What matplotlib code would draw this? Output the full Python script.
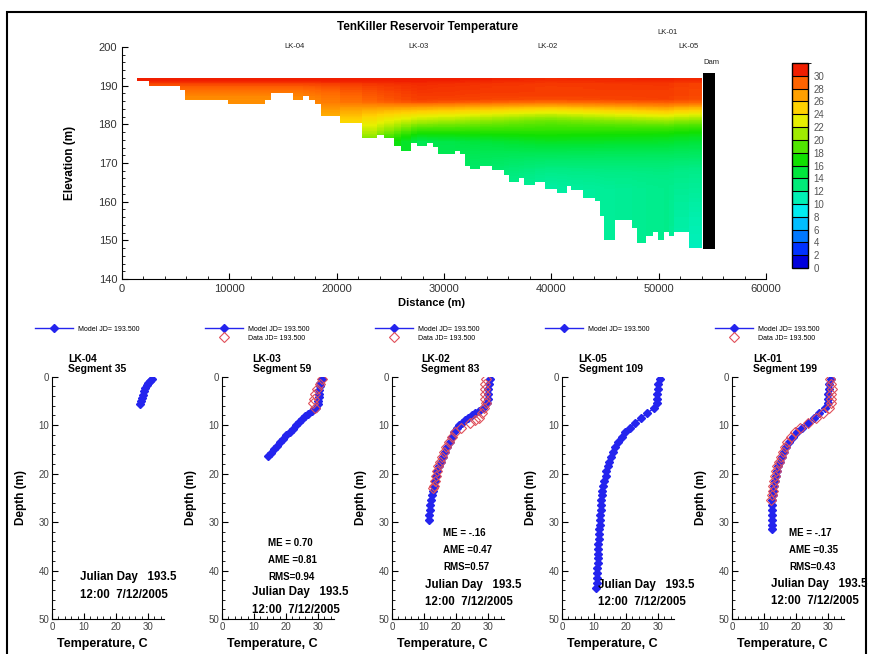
import numpy as np
import matplotlib.pyplot as plt
from matplotlib.colors import LinearSegmentedColormap, ListedColormap, BoundaryNorm
from matplotlib.cm import ScalarMappable
from matplotlib.patches import Rectangle
from matplotlib.ticker import MultipleLocator

plt.rcParams['font.family'] = ['Liberation Sans', 'DejaVu Sans']

# ---- reservoir longitudinal section (segments) ----
seg_edges = [1400, 2500, 5400, 5900, 9850, 13350, 13900, 15900, 16850, 17400, 17950,
             18500, 20350, 22350, 23800, 24400, 25350, 25950, 26950, 27450, 28400,
             28950, 29400, 31000, 31450, 32000, 32450, 33400, 34500, 35600, 36050,
             37000, 37450, 38450, 39450, 40550, 41450, 41850, 42950, 44050, 44500,
             44950, 45900, 47550, 48000, 48800, 49500, 49900, 50500, 51000, 51450,
             52850, 54000]
seg_bottom = [191.1, 190.0, 189.0, 186.2, 185.2, 186.2, 188.2, 186.2, 187.1, 186.2,
              185.2, 182.2, 180.3, 176.3, 177.2, 176.3, 174.3, 173.2, 175.2, 174.3,
              175.2, 174.1, 172.2, 173.0, 172.2, 169.1, 168.3, 169.1, 168.1, 167.0,
              165.0, 166.0, 164.1, 165.0, 163.1, 162.1, 164.0, 163.0, 161.0, 160.1,
              156.2, 150.2, 155.1, 153.2, 149.1, 151.2, 152.1, 150.2, 152.1, 151.2,
              152.1, 148.0]
water_surface = 192.0
dam_x = [54150, 55250]
dam_z = [147.8, 193.4]

stations = ['LK-04', 'LK-03', 'LK-02', 'LK-01', 'LK-05']
station_x = [16100, 27600, 39600, 50800, 52800]
station_label_z = [200, 200, 200, 203.8, 200]

cbar_levels = [0, 2, 4, 6, 8, 10, 12, 14, 16, 18, 20, 22, 24, 26, 28, 30, 32]
cbar_colors = ['#0000dc', '#0032ff', '#0078ff', '#00beff', '#00ecf0', '#00f0b4',
               '#00eb78', '#00e63c', '#10e000', '#50e600', '#a0eb00', '#e6f000',
               '#ffd200', '#ffa000', '#ff6400', '#f01e00']

# ---- vertical profiles (depth m, temperature C) ----
lk04_depth = [0.5, 0.9, 1.3, 1.8, 2.3, 3.0, 3.7, 4.4, 5.0, 5.6]
lk04_temp = [31.4, 30.7, 30.1, 29.6, 29.2, 28.7, 28.3, 28.0, 27.7, 27.6]

lk03_depth = [0.5, 1.2, 2.0, 2.8, 3.5, 4.2, 5.0, 5.7, 6.4, 7.0, 7.6, 8.2, 8.8, 9.4,
              10.0, 10.7, 11.4, 12.1, 12.8, 13.5, 14.2, 15.0, 15.7, 16.4]
lk03_temp = [31.2, 30.7, 30.5, 30.4, 30.3, 30.2, 30.1, 30.0, 29.4, 28.0, 27.0, 26.0,
             25.0, 24.0, 23.1, 22.1, 21.1, 20.1, 19.2, 18.2, 17.3, 16.2, 15.3, 14.3]
lk03_obs_depth = [0.5, 1.5, 2.5, 3.5, 4.5, 5.5, 6.5]
lk03_obs_temp = [31.3, 30.6, 29.8, 29.0, 28.6, 28.5, 29.0]

lk02_depth = [0.5, 1.5, 2.5, 3.5, 4.5, 5.5, 6.5, 7.0, 7.5, 8.0, 8.5, 9.0, 9.5, 10.0,
              10.5, 11.5, 12.5, 13.5, 14.5, 15.5, 16.5, 17.5, 18.5, 19.5, 20.5, 21.5,
              22.5, 23.5, 24.5, 25.5, 26.5, 27.5, 28.5, 29.5]
lk02_temp = [30.6, 30.2, 30.1, 30.1, 30.0, 29.7, 28.4, 27.2, 26.0, 24.9, 23.8, 22.8,
             21.8, 21.0, 20.3, 19.3, 18.7, 18.0, 17.3, 16.6, 15.9, 15.2, 14.7, 14.2,
             13.8, 13.4, 13.1, 12.7, 12.4, 12.2, 12.0, 11.8, 11.6, 11.5]
lk02_obs_depth = [0.5, 1.5, 2.5, 3.5, 4.5, 5.5, 6.5, 7.5, 8.5, 9.0, 9.5, 10.5, 11.5,
                  12.5, 13.5, 14.5, 15.5, 16.5, 17.5, 18.5, 19.5, 20.5, 21.5, 22.5, 23.0]
lk02_obs_temp = [29.4, 29.2, 29.1, 29.1, 29.2, 29.3, 28.9, 28.0, 27.2, 26.0, 24.5,
                 21.5, 19.8, 18.6, 17.7, 16.9, 16.2, 15.6, 15.1, 14.5, 14.0, 13.6,
                 13.3, 13.0, 12.9]

lk05_depth = [0.5, 1.5, 2.5, 3.5, 4.5, 5.5, 6.5, 7.5, 8.5, 9.5, 10.5, 11.5, 12.5, 13.5,
              14.5, 15.5, 16.5, 17.5, 18.5, 19.5, 20.5, 21.5, 22.5, 23.5, 24.5, 25.5,
              26.5, 27.5, 28.5, 29.5, 30.5, 31.5, 32.5, 33.5, 34.5, 35.5, 36.5, 37.5,
              38.5, 39.5, 40.5, 41.5, 42.5, 43.5]
lk05_temp = [30.7, 30.0, 29.9, 29.8, 29.8, 29.6, 28.8, 26.6, 24.8, 22.8, 21.2, 19.8,
             18.6, 17.5, 16.6, 15.8, 15.2, 14.7, 14.3, 13.9, 13.6, 13.2, 12.9, 12.6,
             12.4, 12.3, 12.2, 12.1, 12.0, 11.9, 11.8, 11.7, 11.6, 11.5, 11.4, 11.3,
             11.2, 11.2, 11.1, 11.0, 11.0, 10.9, 10.8, 10.7]

lk01_depth = [0.5, 1.5, 2.5, 3.5, 4.5, 5.5, 6.5, 7.5, 8.5, 9.5, 10.5, 11.5, 12.5, 13.5,
              14.5, 15.5, 16.5, 17.5, 18.5, 19.5, 20.5, 21.5, 22.5, 23.5, 24.5, 25.5,
              26.5, 27.5, 28.5, 29.5, 30.5, 31.5]
lk01_temp = [30.8, 30.3, 30.2, 30.1, 30.1, 30.0, 29.0, 27.3, 25.6, 23.6, 21.8, 20.3,
             19.0, 17.9, 17.0, 16.2, 15.6, 15.0, 14.5, 14.1, 13.7, 13.4, 13.1, 12.9,
             12.7, 12.6, 12.5, 12.5, 12.4, 12.4, 12.4, 12.4]
lk01_obs_depth = [0.5, 1.5, 2.5, 3.5, 4.5, 5.5, 6.5, 7.5, 8.5, 9.5, 10.5, 11.5, 12.5,
                  13.5, 14.5, 15.5, 16.5, 17.5, 18.5, 19.5, 20.5, 21.5, 22.5, 23.5,
                  24.5, 25.5]
lk01_obs_temp = [30.6, 31.0, 31.1, 31.0, 31.0, 30.9, 30.2, 28.4, 26.2, 23.6, 21.3,
                 19.6, 18.3, 17.3, 16.5, 15.8, 15.2, 14.7, 14.2, 13.8, 13.5, 13.2,
                 12.9, 12.7, 12.5, 12.3]

model_profiles = {'LK-04': (lk04_depth, lk04_temp), 'LK-03': (lk03_depth, lk03_temp),
                  'LK-02': (lk02_depth, lk02_temp), 'LK-01': (lk01_depth, lk01_temp),
                  'LK-05': (lk05_depth, lk05_temp)}

# panel order along the bottom row
panel_station = ['LK-04', 'LK-03', 'LK-02', 'LK-05', 'LK-01']
panel_segment = [35, 59, 83, 109, 199]
panel_obs = [None, (lk03_obs_depth, lk03_obs_temp), (lk02_obs_depth, lk02_obs_temp),
             None, (lk01_obs_depth, lk01_obs_temp)]
panel_stats = [None, ('0.70', '0.81', '0.94'), ('-.16', '0.47', '0.57'), None,
               ('-.17', '0.35', '0.43')]

BLUE = '#2424ee'
RED = '#e0505a'
TICKC = '#333333'

W, H = 869, 654
fig = plt.figure(figsize=(W / 100, H / 100), dpi=100)


def box(l, t, r, b):
    return [l / W, 1 - b / H, (r - l) / W, (b - t) / H]


# ---------------- top: temperature section ----------------
ax = fig.add_axes(box(122, 47, 766, 279))
field_cmap = LinearSegmentedColormap.from_list(
    'tec', [(0, cbar_colors[0])] + [((2 * i + 1) / 32, c) for i, c in enumerate(cbar_colors)]
    + [(1, cbar_colors[-1])])

xe = np.array(seg_edges, dtype=float)
xc = 0.5 * (xe[:-1] + xe[1:])
ze = np.arange(140.0, water_surface + 0.01, 0.2)
zc = 0.5 * (ze[:-1] + ze[1:])
depth = water_surface - zc
prof = np.array([np.interp(depth, *model_profiles[s]) for s in stations])
temp = np.array([[np.interp(x, station_x, prof[:, j]) for x in xc] for j in range(len(zc))])
temp = np.ma.masked_where(zc[:, None] < np.array(seg_bottom)[None, :], temp)
ax.pcolormesh(xe, ze, temp, cmap=field_cmap, vmin=0, vmax=32, shading='flat')
ax.bar((dam_x[0] + dam_x[1]) / 2, dam_z[1] - dam_z[0], bottom=dam_z[0],
       width=dam_x[1] - dam_x[0], color='black')

ax.set_xlim(0, 60000)
ax.set_ylim(140, 200)
ax.xaxis.set_major_locator(MultipleLocator(10000))
ax.xaxis.set_minor_locator(MultipleLocator(2000))
ax.yaxis.set_major_locator(MultipleLocator(10))
ax.yaxis.set_minor_locator(MultipleLocator(2))
ax.tick_params(which='both', direction='in', labelsize=8, labelcolor=TICKC)
ax.tick_params(which='major', length=4)
ax.tick_params(which='minor', length=2)
for s in ['top', 'right']:
    ax.spines[s].set_visible(False)
ax.set_xlabel('Distance (m)', weight='bold', fontsize=8)
ax.set_ylabel('Elevation (m)', weight='bold', fontsize=8.5)
ax.xaxis.set_label_coords(0.481, -0.082)
ax.yaxis.set_label_coords(-0.072, 0.5)
for name, x, z in zip(stations, station_x, station_label_z):
    ax.text(x, z, name, fontsize=5.5, ha='center', va='center', color='#222', clip_on=False)
ax.text(dam_x[0], 196, 'Dam', fontsize=5.5, ha='left', va='center', color='#222', clip_on=False)
fig.text(428 / W, 1 - 27 / H, 'TenKiller Reservoir Temperature',
         weight='bold', fontsize=8.5, ha='center', va='center')

cax = fig.add_axes(box(792, 63, 808, 268))
bin_cmap = ListedColormap(cbar_colors)
cb = fig.colorbar(ScalarMappable(norm=BoundaryNorm(cbar_levels, bin_cmap.N), cmap=bin_cmap),
                  cax=cax, ticks=cbar_levels[:-1], drawedges=True)
cb.ax.tick_params(length=0, labelsize=7, labelcolor='#555', pad=4)
cb.outline.set_linewidth(1)
cb.dividers.set_linewidth(0.8)

# ---------------- bottom: profiles ----------------
panel_left = [52, 222, 392, 562, 732]
title_x = [5.0, 9.6, 9.1, 5.2, 6.6]
julian_x = [8.7, 9.4, 10.3, 11.3, 12.3]
julian_y = [41.4, 44.5, 42.9, 42.9, 42.7]
stats_x = [None, 14.4, 15.9, None, 17.8]
stats_y = [None, 34.3, 32.2, None, 32.3]

for i, st in enumerate(panel_station):
    a = fig.add_axes(box(panel_left[i], 376.7, panel_left[i] + 112, 619))
    d, t = model_profiles[st]
    handles = a.plot(t, d, '-D', color=BLUE, ms=4.5, lw=1, label='Model JD= 193.500')
    if panel_obs[i] is not None:
        od, ot = panel_obs[i]
        handles += a.plot(ot, od, 'D', ls='none', mfc='none', mec=RED, mew=0.8, ms=5,
                          label='Data JD= 193.500')
    a.set_xlim(0, 35)
    a.set_ylim(50, 0)
    a.xaxis.set_major_locator(MultipleLocator(10))
    a.xaxis.set_minor_locator(MultipleLocator(2))
    a.yaxis.set_major_locator(MultipleLocator(10))
    a.yaxis.set_minor_locator(MultipleLocator(2))
    a.tick_params(which='both', direction='in', labelsize=7, labelcolor='#444', pad=2)
    a.tick_params(which='major', length=4)
    a.tick_params(which='minor', length=2)
    for s in ['top', 'right']:
        a.spines[s].set_visible(False)
    a.set_xlabel('Temperature, C', weight='bold', fontsize=9)
    a.set_ylabel('Depth (m)', weight='bold', fontsize=8.5)
    a.xaxis.set_label_coords(0.45, -0.078)
    a.yaxis.set_label_coords(-0.22, 0.5)
    a.legend(handles=handles, loc='upper left', bbox_to_anchor=(-0.15, 1.21),
             frameon=False, fontsize=5, handlelength=5.5, handletextpad=0.6,
             borderaxespad=0, borderpad=0, labelspacing=0.3, numpoints=1)
    a.text(title_x[i], -2.6, f'{st}\nSegment {panel_segment[i]}',
           weight='bold', fontsize=7.5, ha='left', va='center', linespacing=1.0,
           clip_on=False)
    if panel_stats[i] is not None:
        me, ame, rms = panel_stats[i]
        for k, s in enumerate([f'ME = {me}', f'AME ={ame}', f'RMS={rms}']):
            a.text(stats_x[i], stats_y[i] + 3.5 * k, s, weight='bold',
                   fontsize=7, ha='left', va='center')
    a.text(julian_x[i], julian_y[i], 'Julian Day   193.5', weight='bold',
           fontsize=8.3, ha='left', va='center', clip_on=False)
    a.text(julian_x[i], julian_y[i] + 3.6, '12:00  7/12/2005',
           weight='bold', fontsize=8.3, ha='left', va='center', clip_on=False)

# frame around the whole sheet
fig.add_artist(Rectangle((7 / W, -0.05), (866 - 7) / W, 1.05 - 12 / H,
                         transform=fig.transFigure, fill=False, lw=1.5, ec='black'))

fig.savefig('out.png', dpi=100)
